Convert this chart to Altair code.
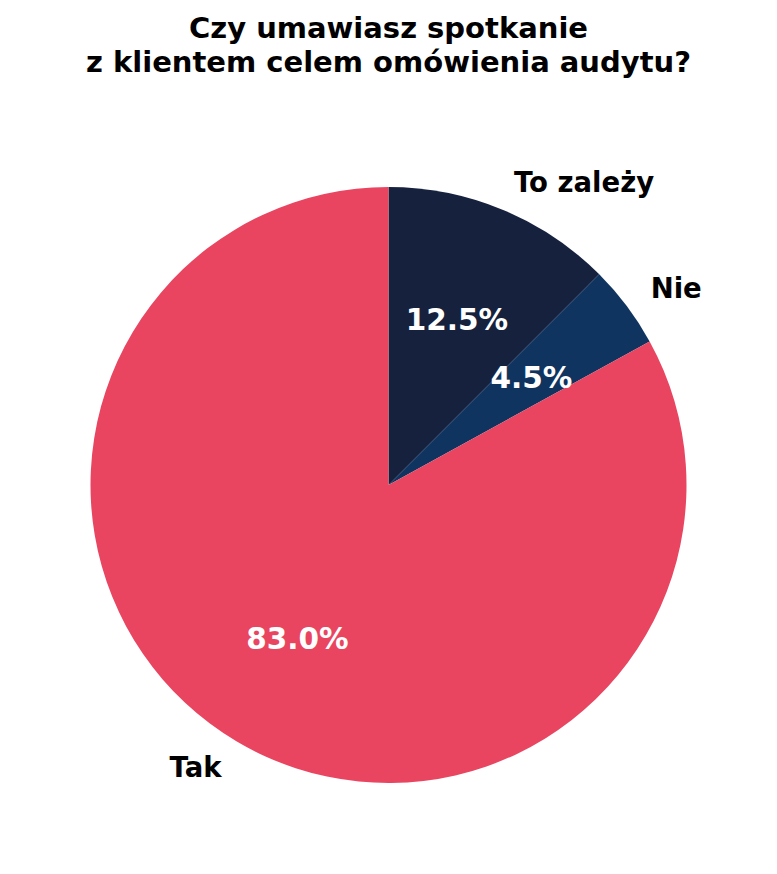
import altair as alt
import pandas as pd

categories = ["To zależy", "Nie", "Tak"]
values = [12.5, 4.5, 83.0]
pct_labels = ["12.5%", "4.5%", "83.0%"]
colors = ["#16213e", "#0f3460", "#e94560"]
sides = ["right", "right", "left"]

df = pd.DataFrame({
    "category": categories,
    "value": values,
    "pct": pct_labels,
    "order": list(range(len(categories))),
    "side": sides,
})

FONT = "DejaVu Sans"
R = 298

base = alt.Chart(df).encode(
    theta=alt.Theta("value:Q", stack=True),
    order=alt.Order("order:Q"),
)

arcs = base.mark_arc(radius=R).encode(
    color=alt.Color("category:N", scale=alt.Scale(domain=categories, range=colors), legend=None)
)

pct = base.mark_text(font=FONT, fontSize=29.5, fontWeight="bold", color="white",
                     align="center", baseline="middle", dy=1.5).encode(
    radius=alt.value(R * 0.6), text="pct:N"
)

lab_right = base.mark_text(font=FONT, fontSize=27.5, fontWeight="bold", color="black",
                           align="left", baseline="middle", dy=2).encode(
    radius=alt.value(R * 1.1), text="category:N",
    opacity=alt.condition("datum.side == 'right'", alt.value(1), alt.value(0)),
)

lab_left = base.mark_text(font=FONT, fontSize=27.5, fontWeight="bold", color="black",
                          align="right", baseline="middle", dy=2).encode(
    radius=alt.value(R * 1.1), text="category:N",
    opacity=alt.condition("datum.side == 'left'", alt.value(1), alt.value(0)),
)

chart = alt.layer(arcs, pct, lab_right, lab_left).properties(
    width=761,
    height=754,
    padding={"left": 0, "top": 100, "right": 0, "bottom": 0},
    autosize=alt.AutoSizeParams(type="none"),
    title=alt.TitleParams(
        text=["Czy umawiasz spotkanie", "z klientem celem omówienia audytu?"],
        font=FONT, fontSize=29, fontWeight="bold", color="black",
        anchor="middle", lineHeight=34, offset=30,
    ),
).configure_view(stroke=None).configure(background="white")

chart.save("out.html", embed_options={"renderer": "svg", "actions": False})
